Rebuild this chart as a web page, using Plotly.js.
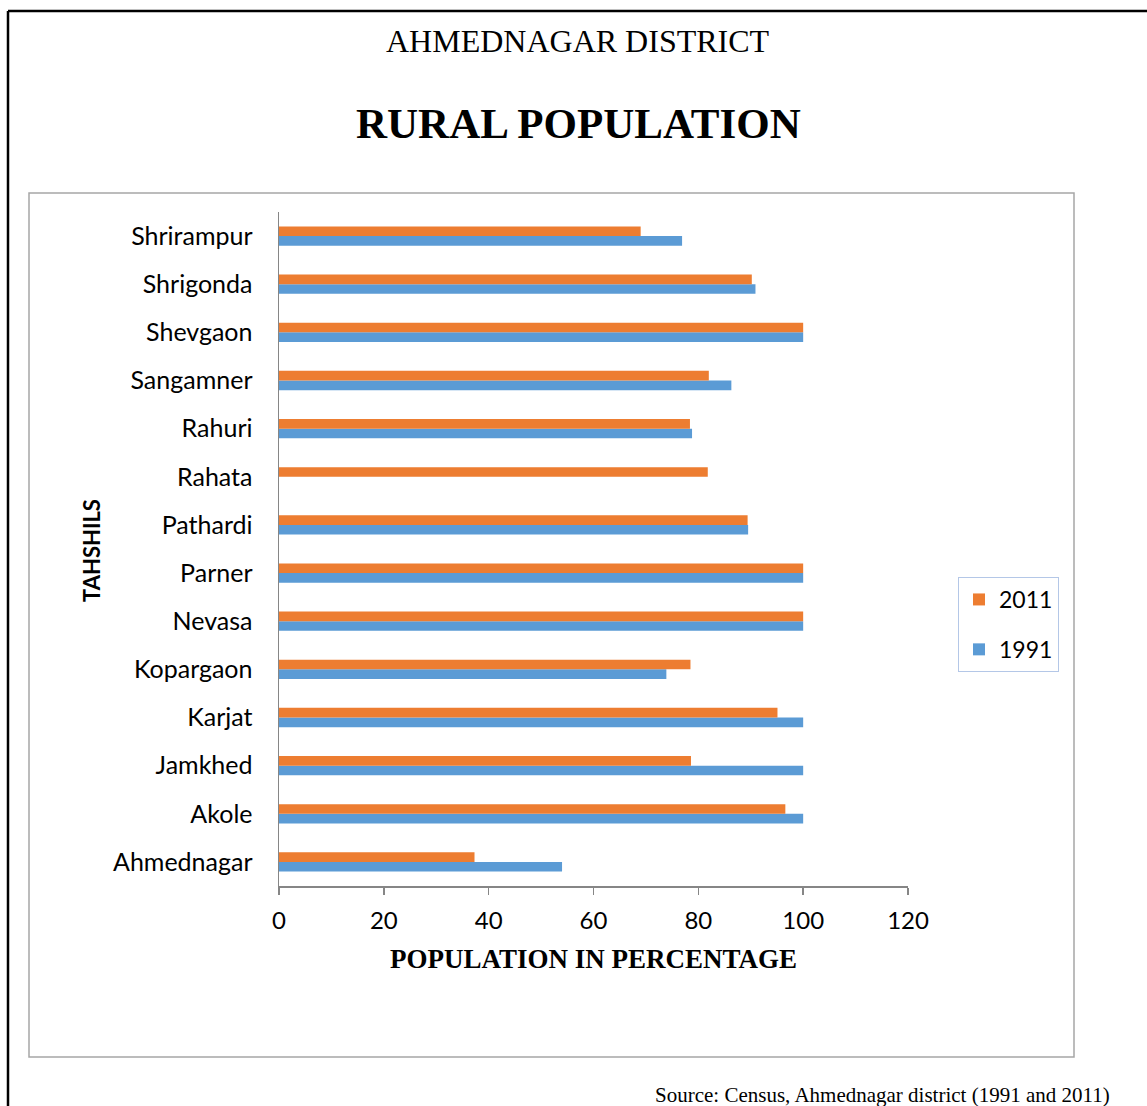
<!DOCTYPE html>
<html>
<head>
<meta charset="utf-8">
<script src="https://cdn.plot.ly/plotly-3.0.1.min.js"></script>
<style>
html,body{margin:0;padding:0;background:#fff;}
#chart{width:1147px;height:1106px;}
</style>
</head>
<body>
<div id="chart"></div>
<script>
// Data (bottom to top on the chart)
const tahshils = ["Ahmednagar","Akole","Jamkhed","Karjat","Kopargaon","Nevasa","Parner","Pathardi","Rahata","Rahuri","Sangamner","Shevgaon","Shrigonda","Shrirampur"];
const pop1991 = [54.0, 100, 100, 100, 73.9, 100, 100, 89.5, null, 78.8, 86.3, 100, 90.9, 76.9];
const pop2011 = [37.3, 96.6, 78.6, 95.1, 78.5, 100, 100, 89.4, 81.8, 78.4, 82.0, 100, 90.2, 69.0];
const xTicks = [0, 20, 40, 60, 80, 100, 120];

const W = 1147, H = 1106;
const L = 279, R = 908, T = 212, B = 886;
const px = x => (x - L) / (R - L);
const py = y => (B - y) / (B - T);

const sans = "Lato, 'Noto Sans', sans-serif";
const serif = "'Liberation Serif', 'Times New Roman', serif";

const traces = [
  {type:'bar', orientation:'h', name:'1991', y:tahshils, x:pop1991,
   marker:{color:'#5B9BD5'}, legendgroup:'g1991', legendrank: 2, hoverinfo:'x+y'},
  {type:'bar', orientation:'h', name:'2011', y:tahshils, x:pop2011,
   marker:{color:'#ED7D31'}, legendgroup:'g2011', legendrank: 1, hoverinfo:'x+y'}
];

const layout = {
  width: W, height: H,
  margin: {l: L, r: W - R, t: T, b: H - B, pad: 0},
  paper_bgcolor: '#fff', plot_bgcolor: '#fff',
  barmode: 'group', bargap: 0.6, bargroupgap: 0,
  showlegend: true,
  legend: {
    x: px(958), y: py(577), xanchor: 'left', yanchor: 'top',
    traceorder: 'grouped', tracegroupgap: 17,
    bordercolor: '#B4C7E7', borderwidth: 1, bgcolor: '#fff',
    font: {family: sans, size: 23, color: '#000'},
    itemwidth: 30
  },
  xaxis: {
    range: [0, 120], tickvals: xTicks, ticktext: xTicks.map(String),
    showgrid: false, zeroline: false,
    showline: true, linecolor: '#868686', linewidth: 1.5,
    ticks: 'outside', ticklen: 7, tickcolor: '#868686', tickwidth: 1.5,
    tickfont: {family: sans, size: 24, color: '#000'},
    ticklabelstandoff: 6,
    fixedrange: true,
    title: {text: 'POPULATION IN PERCENTAGE', font: {family: serif, size: 27, color: '#000', weight: 'bold'}, standoff: 16}
  },
  yaxis: {
    type: 'category', categoryorder: 'array', categoryarray: tahshils,
    showgrid: false, zeroline: false,
    showline: true, linecolor: '#868686', linewidth: 1.5,
    ticks: '', tickfont: {family: sans, size: 25, color: '#000'},
    ticklabelstandoff: 20,
    fixedrange: true
  },
  annotations: [
    {xref:'paper', yref:'paper', x: px(578), y: py(41), xanchor:'center', yanchor:'middle', showarrow:false,
     text:'AHMEDNAGAR DISTRICT', font:{family: serif, size: 32, color:'#000'}},
    {xref:'paper', yref:'paper', x: px(578), y: py(124), xanchor:'center', yanchor:'middle', showarrow:false,
     text:'<b>RURAL POPULATION</b>', font:{family: serif, size: 43, color:'#000'}},
    {xref:'paper', yref:'paper', x: px(91), y: py(551), xanchor:'center', yanchor:'middle', showarrow:false,
     textangle: -90, text:'<b>TAHSHILS</b>', font:{family: sans, size: 22, color:'#000'}},
    {xref:'paper', yref:'paper', x: px(1112), y: py(1095), xanchor:'right', yanchor:'middle', showarrow:false,
     text:'Source: Census, Ahmednagar district (1991 and 2011)', font:{family: serif, size: 21, color:'#000'}}
  ],
  shapes: [
    {type:'rect', xref:'paper', yref:'paper', x0: px(29), x1: px(1074), y0: py(1057), y1: py(193),
     line:{color:'#A6A6A6', width:1.5}, fillcolor:'rgba(0,0,0,0)', layer:'below'},
    {type:'line', xref:'paper', yref:'paper', x0: px(8), x1: px(8), y0: py(1120), y1: py(11),
     line:{color:'#000', width:2.5}},
    {type:'line', xref:'paper', yref:'paper', x0: px(8), x1: px(1160), y0: py(11), y1: py(11),
     line:{color:'#000', width:2.5}}
  ]
};

Plotly.newPlot('chart', traces, layout, {displayModeBar: false, staticPlot: true});
</script>
</body>
</html>
